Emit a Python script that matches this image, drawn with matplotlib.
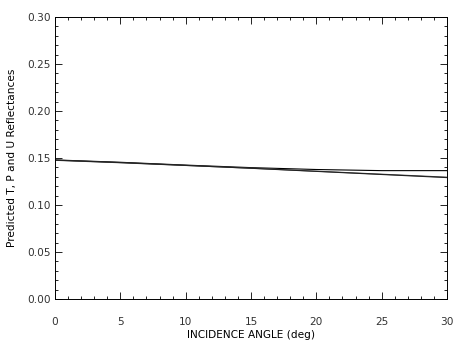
import matplotlib
matplotlib.use("Agg")
import matplotlib.pyplot as plt
from matplotlib.ticker import MultipleLocator, FormatStrFormatter

# incidence angle (deg) and predicted reflectances
angle = [0, 5, 10, 15, 20, 25, 30]
refl_t = [0.148, 0.1455, 0.1425, 0.1398, 0.1378, 0.1366, 0.1366]
refl_p = [0.1476, 0.1450, 0.1421, 0.1392, 0.1360, 0.1328, 0.1296]
refl_u = [0.1478, 0.1452, 0.1422, 0.1391, 0.1358, 0.1325, 0.1292]

plt.rcParams["font.family"] = "DejaVu Sans"
plt.rcParams["text.color"] = "#333333"

fig = plt.figure(figsize=(4.53, 3.49), dpi=100)
ax = fig.add_axes([0.1214, 0.1433, 0.8654, 0.8077])

ax.plot(angle, refl_t, color="black", linewidth=0.8)
ax.plot(angle, refl_p, color="#444444", linewidth=0.8)
ax.plot(angle, refl_u, color="#222222", linewidth=0.8)

ax.set_xlim(0, 30)
ax.set_ylim(0, 0.30)
ax.xaxis.set_major_locator(MultipleLocator(5))
ax.xaxis.set_minor_locator(MultipleLocator(1))
ax.yaxis.set_major_locator(MultipleLocator(0.05))
ax.yaxis.set_minor_locator(MultipleLocator(0.01))
ax.yaxis.set_major_formatter(FormatStrFormatter("%.2f"))

ax.tick_params(which="both", direction="in", top=True, right=True, width=0.6)
ax.tick_params(which="major", length=5)
ax.tick_params(which="minor", length=2.5)
ax.tick_params(axis="x", pad=13, labelsize=7.6, labelcolor="#333333")
ax.tick_params(axis="y", pad=3, labelsize=7.6, labelcolor="#333333")
for side in ax.spines.values():
    side.set_linewidth(0.7)

ax.set_xlabel("INCIDENCE ANGLE (deg)", fontsize=7.6, labelpad=2)
ax.set_ylabel("Predicted T, P and U Reflectances", fontsize=7.6, labelpad=7)

fig.savefig("out.png", dpi=100)
